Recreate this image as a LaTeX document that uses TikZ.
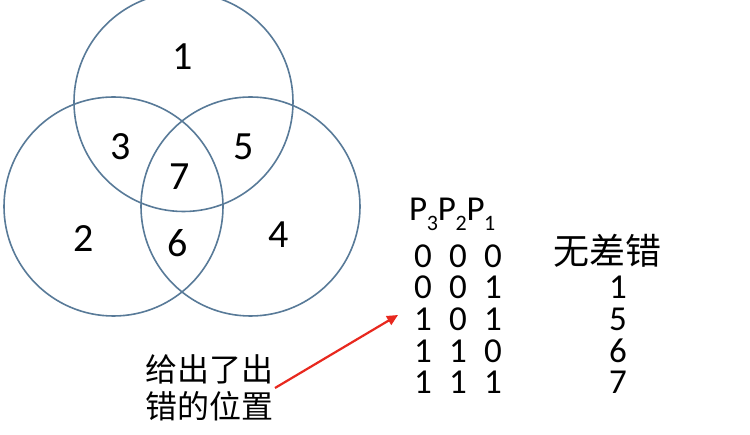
\documentclass[tikz,border=0pt]{standalone}
\usepackage{fontspec}
\setmainfont{Carlito}
\newfontfamily\cjk{Noto Sans CJK SC}
\usetikzlibrary{arrows.meta}
\definecolor{venn}{RGB}{88,122,152}
\definecolor{arrowred}{RGB}{232,40,30}
\tikzset{
  venncircle/.style={draw=venn, line width=1.6pt},
  region/.style={font=\fontsize{40}{40}\selectfont, inner sep=0pt},
  tabtext/.style={font=\fontsize{35}{35}\selectfont, inner sep=0pt, text height=22pt, text depth=0pt},
  cjklabel/.style={font=\cjk\fontsize{32}{37}\selectfont, inner sep=0pt, align=left},
  redarrow/.style={draw=arrowred, line width=2.2pt, -{Triangle[length=11pt,width=10pt]}}
}
\newcommand{\Psub}[1]{P\kern-0.5pt\raisebox{-0.28em}{\fontsize{22}{22}\selectfont #1}}
\begin{document}
\begin{tikzpicture}[x=1pt,y=-1pt]
\useasboundingbox (0,0) rectangle (750,435);
\fill[white] (0,0) rectangle (750,435);
\begin{scope}
\clip (0,0) rectangle (750,435);
\draw[venncircle] (183.5,102) circle[radius=109.5];
\draw[venncircle] (113.5,206.5) circle[radius=109.5];
\draw[venncircle] (250.5,206.5) circle[radius=109.5];
\end{scope}
% region numbers
\node[region] (r1) at (183,57) {1};
\node[region] (r3) at (121,147) {3};
\node[region] (r5) at (244,147) {5};
\node[region] (r7) at (180,177) {7};
\node[region] (r2) at (84,239) {2};
\node[region] (r6) at (178,243) {6};
\node[region] (r4) at (279,235) {4};
% table
\node[font=\fontsize{35}{35}\selectfont, inner sep=0pt, anchor=west] (hdr) at (409,214) {\Psub{3}\Psub{2}\Psub{1}};
\foreach \row/\y/\a/\b/\c in {0/257/0/0/0, 1/288/0/0/1, 2/320/1/0/1, 3/352/1/1/0, 4/383/1/1/1}{
  \node[tabtext] (c1-\row) at (423,\y) {\a};
  \node[tabtext] (c2-\row) at (458,\y) {\b};
  \node[tabtext] (c3-\row) at (493,\y) {\c};
}
\node[font=\cjk\fontsize{36}{36}\selectfont, inner sep=0pt] (noerr) at (607,251) {无差错};
\node[tabtext] (e1) at (618,288) {1};
\node[tabtext] (e5) at (618,320) {5};
\node[tabtext] (e6) at (618,352) {6};
\node[tabtext] (e7) at (618,383) {7};
% label and arrow
\node[cjklabel, anchor=west] (lbl) at (145,388) {给出了出\\错的位置};
\coordinate (tip) at (398,315);
\draw[redarrow] (275,388) -- (tip);
\end{tikzpicture}
\end{document}
